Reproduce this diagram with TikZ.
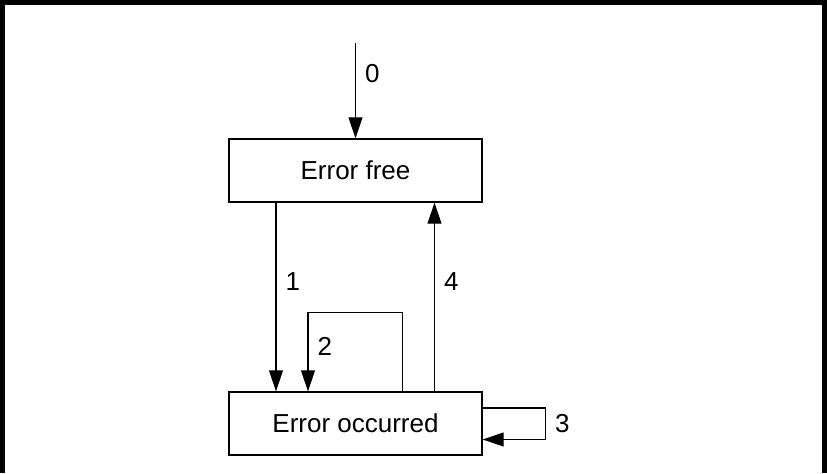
\documentclass[tikz,border=0pt]{standalone}
\usepackage{fontspec}
\setmainfont{Liberation Sans}
\usetikzlibrary{arrows.meta}

\begin{document}
\begin{tikzpicture}[x=0.5pt, y=-0.5pt, font=\fontsize{13}{15}\selectfont,
    state/.style={draw, line width=0.7pt, minimum width=126.5pt, minimum height=31.5pt, inner sep=0pt},
    flow/.style={line width=0.55pt, -{Triangle[length=10.5pt, width=7pt]}},
    lbl/.style={inner sep=4.5pt}]
  \useasboundingbox (0,0) rectangle (827,473);
  % frame, open at the bottom
  \draw[line width=2.5pt] (2.5,473) -- (2.5,2.5) -- (824.5,2.5) -- (824.5,473);
  \node[state] (free) at (355.5,170.5) {Error free};
  \node[state] (occ) at (355.5,423.5) {Error occurred};
  \coordinate (entry) at (355.5,43);
  \draw[flow] (entry) -- (free.north) node[lbl, pos=0.32, right] {0};
  \draw[flow] ([xshift=-39.75pt]free.south) -- ([xshift=-39.75pt]occ.north) node[lbl, pos=0.42, right] {1};
  \draw[flow] ([xshift=23.5pt]occ.north) -- ++(0,-79) -| ([xshift=-23.75pt]occ.north) node[lbl, pos=0.715, right] {2};
  \draw[flow] ([yshift=7.75pt]occ.east) -- ++(63,0) |- ([yshift=-8pt]occ.east) node[lbl, pos=0.25, right] {3};
  \draw[flow] ([xshift=39.5pt]occ.north) -- ([xshift=39.5pt]free.south) node[lbl, pos=0.58, right] {4};
\end{tikzpicture}
\end{document}
